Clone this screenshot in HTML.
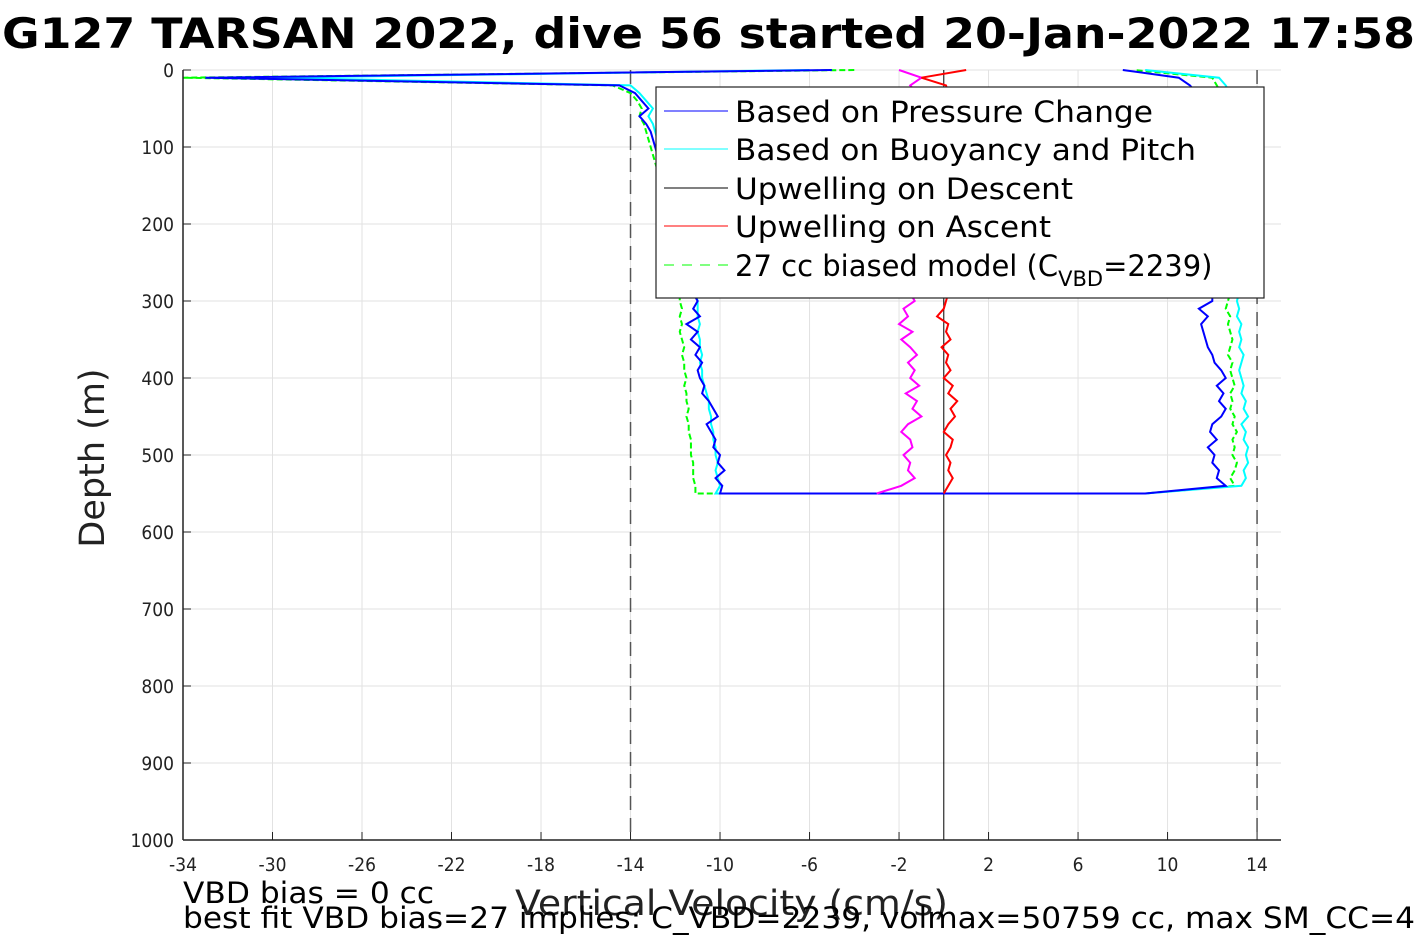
<!DOCTYPE html>
<html><head><meta charset="utf-8"><style>
body{margin:0;background:#fff;width:1417px;height:945px;overflow:hidden;font-family:"DejaVu Sans","Liberation Sans",sans-serif}
svg text{font-family:"DejaVu Sans","Liberation Sans",sans-serif}
.c{font-family:"DejaVu Sans Condensed","DejaVu Sans","Liberation Sans",sans-serif}
</style></head><body>
<svg id="chart" width="1417" height="945" viewBox="0 0 1417 945" xmlns="http://www.w3.org/2000/svg">
<rect width="1417" height="945" fill="#fff"/>
<g id="grid"></g>
<g id="series"></g>
<g id="axes"></g>
<text x="2" y="48" font-size="42" font-weight="bold" textLength="1413" lengthAdjust="spacingAndGlyphs">G127 TARSAN 2022, dive 56 started 20-Jan-2022 17:58</text>
<text transform="translate(104,458) rotate(-90)" text-anchor="middle" font-size="35" fill="#222">Depth (m)</text>
<text x="515" y="915" font-size="35" fill="#222" textLength="433" lengthAdjust="spacingAndGlyphs">Vertical Velocity (cm/s)</text>
<text x="183" y="903" font-size="29" textLength="251" lengthAdjust="spacingAndGlyphs">VBD bias = 0 cc</text>
<text x="183" y="928" font-size="29" textLength="1232" lengthAdjust="spacingAndGlyphs">best fit VBD bias=27 implies: C_VBD=2239, volmax=50759 cc, max SM_CC=4</text>
<g>
<rect x="656" y="87" width="608" height="211" fill="#fff" stroke="#222" stroke-width="1.2"/>
<line x1="664" y1="111" x2="728" y2="111" stroke="#00f"/><text x="735" y="122" font-size="29" textLength="418" lengthAdjust="spacingAndGlyphs">Based on Pressure Change</text>
<line x1="664" y1="149" x2="728" y2="149" stroke="#0ff"/><text x="735" y="160" font-size="29" textLength="461" lengthAdjust="spacingAndGlyphs">Based on Buoyancy and Pitch</text>
<line x1="664" y1="188" x2="728" y2="188" stroke="#000"/><text x="735" y="199" font-size="29" textLength="338" lengthAdjust="spacingAndGlyphs">Upwelling on Descent</text>
<line x1="664" y1="226" x2="728" y2="226" stroke="#f00"/><text x="735" y="237" font-size="29" textLength="316" lengthAdjust="spacingAndGlyphs">Upwelling on Ascent</text>
<line x1="664" y1="265" x2="728" y2="265" stroke="#0f0" stroke-dasharray="10,8"/><text x="735" y="276" font-size="29">27 cc biased model (C<tspan font-size="21" dy="10">VBD</tspan><tspan dy="-10">=2239)</tspan></text>
</g>
</svg>
<script>
const depths=[0,10,20,30,40,50,60,70,80,90,100,110,120,130,140,150,160,170,180,190,200,210,220,230,240,250,260,270,280,290,300,310,320,330,340,350,360,370,380,390,400,410,420,430,440,450,460,470,480,490,500,510,520,530,540,550];
const descPressure=[-5,-33,-14.5,-13.8,-13.5,-13.2,-13.6,-13.3,-13.1,-13,-12.9,-12.8,-12.6,-12.5,-12.4,-12.3,-12.2,-12.1,-12,-11.9,-11.8,-11.7,-11.6,-11.5,-11.4,-11.4,-11.3,-11.3,-11.2,-11.2,-11.0,-11.2,-10.9,-11.5,-11.0,-11.3,-10.9,-11.1,-10.8,-11.0,-10.9,-10.7,-10.8,-10.5,-10.3,-10.1,-10.6,-10.4,-10.2,-10.3,-10.0,-10.1,-9.8,-10.2,-9.9,-10.0];
const descBuoy=[-6,-30,-14,-13.6,-13.3,-13,-13.2,-13,-12.9,-12.8,-12.7,-12.6,-12.5,-12.4,-12.3,-12.2,-12.1,-12,-11.9,-11.8,-11.7,-11.6,-11.5,-11.4,-11.3,-11.3,-11.2,-11.2,-11.1,-11.1,-11.0,-11.0,-11.0,-10.9,-11.0,-10.9,-10.9,-10.8,-10.9,-10.8,-10.8,-10.7,-10.6,-10.5,-10.5,-10.4,-10.4,-10.3,-10.3,-10.2,-10.2,-10.1,-10.2,-10.1,-10.0,-10.2];
const descModel=[-4,-34,-14.8,-14,-13.7,-13.5,-13.6,-13.4,-13.3,-13.2,-13.1,-13,-12.9,-12.8,-12.7,-12.6,-12.5,-12.4,-12.3,-12.2,-12.1,-12.1,-12,-12,-11.9,-11.9,-11.9,-11.8,-11.8,-11.8,-11.8,-11.7,-11.8,-11.7,-11.8,-11.7,-11.6,-11.7,-11.6,-11.6,-11.5,-11.6,-11.5,-11.5,-11.4,-11.5,-11.4,-11.4,-11.3,-11.3,-11.3,-11.2,-11.2,-11.2,-11.1,-11.1];
const ascPressure=[8,10.5,11.0,11.3,11.5,11.6,11.8,11.9,12,12,12,12,12,12,12,12,12,12,12,12,12,12,12,12,12,12,12,12,12,12,12.0,11.4,11.8,11.5,11.6,11.7,11.8,12.0,12.1,12.4,12.6,12.2,12.5,12.3,12.6,12.4,12.0,11.9,12.2,11.8,12.1,12.0,12.3,12.2,12.6,9];
const ascBuoy=[9,12.3,12.6,12.8,12.9,13,13,13.1,13.1,13.1,13.1,13.2,13.2,13.2,13.2,13.2,13.2,13.2,13.2,13.2,13.2,13.2,13.2,13.2,13.2,13.2,13.2,13.2,13.2,13.2,13.1,13.2,13.1,13.3,13.2,13.3,13.2,13.4,13.3,13.2,13.3,13.4,13.3,13.5,13.4,13.6,13.3,13.5,13.4,13.6,13.5,13.6,13.4,13.5,13.3,9];
const ascModel=[8.5,12,12.2,12.4,12.5,12.6,12.6,12.7,12.7,12.7,12.7,12.7,12.8,12.8,12.8,12.8,12.8,12.8,12.8,12.8,12.8,12.8,12.8,12.8,12.8,12.8,12.8,12.8,12.8,12.8,12.7,12.6,12.8,12.7,12.8,12.9,12.8,12.7,12.9,12.8,12.9,13.0,12.8,12.9,12.8,13.0,12.9,13.1,12.9,13.0,12.9,13.1,13.0,12.8,13.0,9];
const upDesc=[-2,-1,-1.5,-1.2,-1.8,-1.6,-1.5,-1.5,-1.5,-1.5,-1.5,-1.5,-1.5,-1.5,-1.5,-1.5,-1.5,-1.5,-1.5,-1.5,-1.5,-1.5,-1.5,-1.5,-1.5,-1.5,-1.5,-1.5,-1.5,-1.5,-1.3,-1.8,-1.6,-2.0,-1.4,-1.9,-1.5,-1.2,-1.6,-1.3,-1.5,-1.1,-1.7,-1.2,-1.4,-1.0,-1.6,-1.9,-1.5,-1.4,-1.8,-1.5,-1.6,-1.3,-1.9,-3];
const upAsc=[1,-1,0.1,0.2,0.1,0.2,0.2,0.2,0.2,0.2,0.2,0.2,0.2,0.2,0.2,0.2,0.2,0.2,0.2,0.2,0.2,0.2,0.2,0.2,0.2,0.2,0.2,0.2,0.2,0.2,0.1,0.0,-0.3,0.2,0.1,0.3,-0.1,0.2,0.1,0.3,0.0,0.4,0.2,0.6,0.3,0.5,0.2,0.0,0.4,0.3,0.1,0.3,0.2,0.4,0.2,0.0];
const xTicks=[-34,-30,-26,-22,-18,-14,-10,-6,-2,2,6,10,14];
const yTicks=[0,100,200,300,400,500,600,700,800,900,1000];
const X0=183,X1=1281,XMIN=-34,XMAX=15.07,Y0=70,Y1=840,YMIN=0,YMAX=1000;
const sx=v=>X0+(v-XMIN)/(XMAX-XMIN)*(X1-X0);
const sy=d=>Y0+(d-YMIN)/(YMAX-YMIN)*(Y1-Y0);
const NS="http://www.w3.org/2000/svg";
function mk(tag,parent,attrs){const e=document.createElementNS(NS,tag);for(const k in attrs)e.setAttribute(k,attrs[k]);parent.appendChild(e);return e;}
const grid=document.getElementById('grid'),axes=document.getElementById('axes'),ser=document.getElementById('series');
xTicks.forEach(t=>{
  const g=mk('line',grid,{x1:sx(t),x2:sx(t),y1:Y0,y2:Y1,stroke:'#e2e2e2'});
  
  
  const tl=mk('text',axes,{x:sx(t),y:Y1+31,'text-anchor':'middle','font-size':'19',fill:'#222',class:'c'});
  tl.textContent=t;
  
  
  mk('line',axes,{x1:sx(t),x2:sx(t),y1:Y1,y2:Y1-8,stroke:'#222'});
});
yTicks.forEach(t=>{
  const g=mk('line',grid,{x1:X0,x2:X1,y1:sy(t),y2:sy(t),stroke:'#e2e2e2'});
  
  
  const tl=mk('text',axes,{x:X0-9,y:sy(t)+7,'text-anchor':'end','font-size':'19',fill:'#222',class:'c'});
  tl.textContent=t;
  
  
  mk('line',axes,{x1:X0,x2:X0+8,y1:sy(t),y2:sy(t),stroke:'#222'});
});
const ax=mk('line',axes,{x1:X0,x2:X1,y1:Y1,y2:Y1,stroke:'#222','stroke-width':1.5});


const ay=mk('line',axes,{x1:X0,x2:X0,y1:Y0,y2:Y1,stroke:'#222','stroke-width':1.5});


[-14,14].forEach(v=>{
  const l=mk('line',ser,{x1:sx(v),x2:sx(v),y1:Y0,y2:Y1,stroke:'#555','stroke-width':1.5,'stroke-dasharray':'14,8'});
  
  
});
const z=mk('line',ser,{x1:sx(0),x2:sx(0),y1:Y0,y2:Y1,stroke:'#000','stroke-width':1});


function poly(desc,asc,color,name,dash){
  const pts=[];
  desc.forEach((v,i)=>pts.push(sx(v)+','+sy(depths[i])));
  if(asc){for(let i=asc.length-1;i>=0;i--)pts.push(sx(asc[i])+','+sy(depths[i]));}
  const p=mk('polyline',ser,{points:pts.join(' '),fill:'none',stroke:color,'stroke-width':2});
  if(dash)p.setAttribute('stroke-dasharray',dash);
  
  
}
poly(descModel,ascModel,'#0f0','model-series','6,3');
poly(descBuoy,ascBuoy,'#0ff','buoyancy-pitch-series');
poly(descPressure,ascPressure,'#00f','pressure-change-series');
poly(upDesc,null,'#f0f','upwelling-descent-series');
poly(upAsc,null,'#f00','upwelling-ascent-series');
</script>
</body></html>
